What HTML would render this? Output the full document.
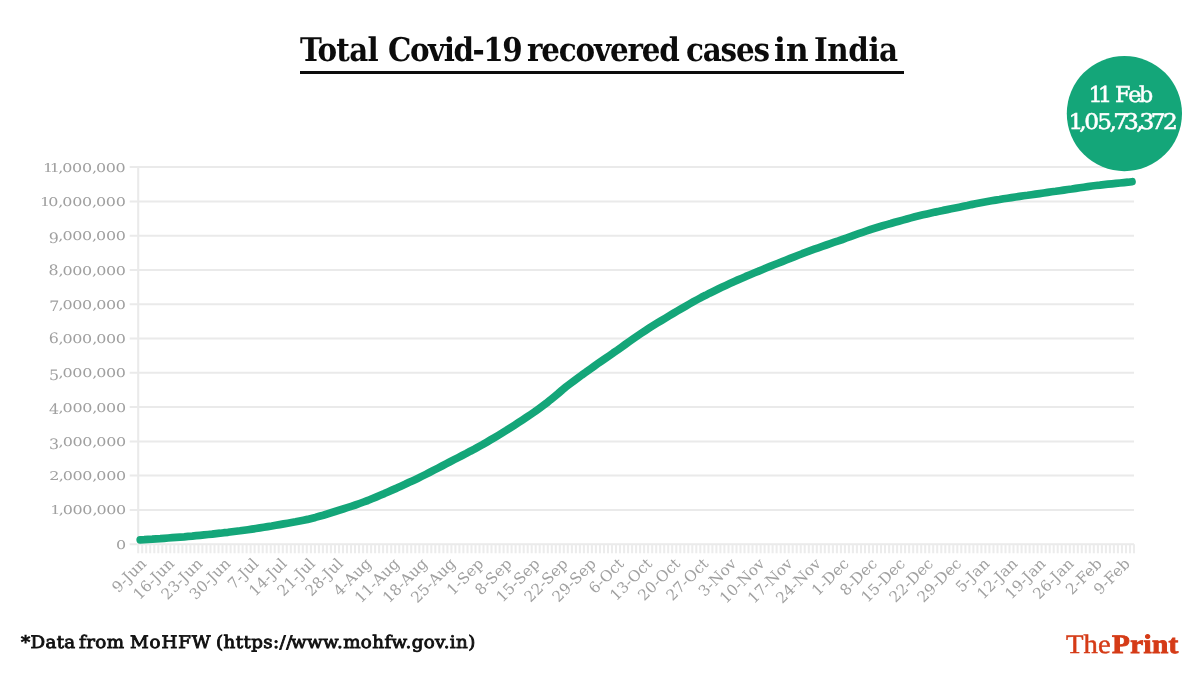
<!DOCTYPE html>
<html lang="en">
<head>
<meta charset="utf-8">
<title>Total Covid-19 recovered cases in India</title>
<style>
html,body{margin:0;padding:0;background:#fff;}
body{width:1200px;height:675px;position:relative;overflow:hidden;font-family:"Liberation Serif","DejaVu Serif",serif;}
#title{position:absolute;left:300px;top:29px;width:604px;height:41.8px;border-bottom:3.2px solid #0c0c0c;box-sizing:content-box;
  font-family:"DejaVu Serif Condensed","DejaVu Serif","Liberation Serif",serif;font-weight:bold;font-size:32.7px;line-height:42px;color:#0c0c0c;white-space:nowrap;}
#title span{position:absolute;top:0px;transform:skewX(0.05deg);}
#foot{position:absolute;left:0;top:622.25px;width:600px;height:40px;font-family:"DejaVu Serif","Liberation Serif",serif;font-size:17.4px;line-height:40px;color:#111;white-space:nowrap;-webkit-text-stroke:0.85px #111;}
#foot span{position:absolute;top:0;transform:scaleX(1.052) skewX(0.05deg);transform-origin:0 50%;}
#logo{position:absolute;left:0;top:622.25px;width:1200px;height:44px;font-family:"Liberation Serif","DejaVu Serif",serif;font-size:26.6px;line-height:44px;color:#d53b17;white-space:nowrap;}
#logo span,#logo b{position:absolute;top:0;transform-origin:0 50%;}
#logo span{-webkit-text-stroke:0.45px #d53b17;transform:scaleX(1.08) skewX(0.05deg);}
#logo b{font-weight:bold;-webkit-text-stroke:0.9px #d53b17;transform:scaleX(1.10) skewX(0.05deg);}
</style>
</head>
<body>
<svg width="1200" height="675" viewBox="0 0 1200 675" style="position:absolute;left:0;top:0">
<line x1="129.7" y1="544.2" x2="1134.0" y2="544.2" stroke="#eaeaea" stroke-width="2"/>
<line x1="129.7" y1="509.9" x2="1134.0" y2="509.9" stroke="#eaeaea" stroke-width="2"/>
<line x1="129.7" y1="475.6" x2="1134.0" y2="475.6" stroke="#eaeaea" stroke-width="2"/>
<line x1="129.7" y1="441.4" x2="1134.0" y2="441.4" stroke="#eaeaea" stroke-width="2"/>
<line x1="129.7" y1="407.1" x2="1134.0" y2="407.1" stroke="#eaeaea" stroke-width="2"/>
<line x1="129.7" y1="372.8" x2="1134.0" y2="372.8" stroke="#eaeaea" stroke-width="2"/>
<line x1="129.7" y1="338.5" x2="1134.0" y2="338.5" stroke="#eaeaea" stroke-width="2"/>
<line x1="129.7" y1="304.2" x2="1134.0" y2="304.2" stroke="#eaeaea" stroke-width="2"/>
<line x1="129.7" y1="270.0" x2="1134.0" y2="270.0" stroke="#eaeaea" stroke-width="2"/>
<line x1="129.7" y1="235.7" x2="1134.0" y2="235.7" stroke="#eaeaea" stroke-width="2"/>
<line x1="129.7" y1="201.4" x2="1134.0" y2="201.4" stroke="#eaeaea" stroke-width="2"/>
<line x1="129.7" y1="167.1" x2="1134.0" y2="167.1" stroke="#eaeaea" stroke-width="2"/>
<line x1="138.2" y1="167.1" x2="138.2" y2="544.2" stroke="#eaeaea" stroke-width="2.1"/>
<path d="M138.2,544.2v9M142.2,544.2v9M146.2,544.2v9M150.2,544.2v9M154.3,544.2v9M158.3,544.2v9M162.3,544.2v9M166.3,544.2v9M170.3,544.2v9M174.3,544.2v9M178.4,544.2v9M182.4,544.2v9M186.4,544.2v9M190.4,544.2v9M194.4,544.2v9M198.4,544.2v9M202.4,544.2v9M206.5,544.2v9M210.5,544.2v9M214.5,544.2v9M218.5,544.2v9M222.5,544.2v9M226.5,544.2v9M230.6,544.2v9M234.6,544.2v9M238.6,544.2v9M242.6,544.2v9M246.6,544.2v9M250.6,544.2v9M254.6,544.2v9M258.7,544.2v9M262.7,544.2v9M266.7,544.2v9M270.7,544.2v9M274.7,544.2v9M278.7,544.2v9M282.8,544.2v9M286.8,544.2v9M290.8,544.2v9M294.8,544.2v9M298.8,544.2v9M302.8,544.2v9M306.8,544.2v9M310.9,544.2v9M314.9,544.2v9M318.9,544.2v9M322.9,544.2v9M326.9,544.2v9M330.9,544.2v9M335.0,544.2v9M339.0,544.2v9M343.0,544.2v9M347.0,544.2v9M351.0,544.2v9M355.0,544.2v9M359.0,544.2v9M363.1,544.2v9M367.1,544.2v9M371.1,544.2v9M375.1,544.2v9M379.1,544.2v9M383.1,544.2v9M387.1,544.2v9M391.2,544.2v9M395.2,544.2v9M399.2,544.2v9M403.2,544.2v9M407.2,544.2v9M411.2,544.2v9M415.3,544.2v9M419.3,544.2v9M423.3,544.2v9M427.3,544.2v9M431.3,544.2v9M435.3,544.2v9M439.3,544.2v9M443.4,544.2v9M447.4,544.2v9M451.4,544.2v9M455.4,544.2v9M459.4,544.2v9M463.4,544.2v9M467.5,544.2v9M471.5,544.2v9M475.5,544.2v9M479.5,544.2v9M483.5,544.2v9M487.5,544.2v9M491.5,544.2v9M495.6,544.2v9M499.6,544.2v9M503.6,544.2v9M507.6,544.2v9M511.6,544.2v9M515.6,544.2v9M519.7,544.2v9M523.7,544.2v9M527.7,544.2v9M531.7,544.2v9M535.7,544.2v9M539.7,544.2v9M543.7,544.2v9M547.8,544.2v9M551.8,544.2v9M555.8,544.2v9M559.8,544.2v9M563.8,544.2v9M567.8,544.2v9M571.9,544.2v9M575.9,544.2v9M579.9,544.2v9M583.9,544.2v9M587.9,544.2v9M591.9,544.2v9M595.9,544.2v9M600.0,544.2v9M604.0,544.2v9M608.0,544.2v9M612.0,544.2v9M616.0,544.2v9M620.0,544.2v9M624.1,544.2v9M628.1,544.2v9M632.1,544.2v9M636.1,544.2v9M640.1,544.2v9M644.1,544.2v9M648.1,544.2v9M652.2,544.2v9M656.2,544.2v9M660.2,544.2v9M664.2,544.2v9M668.2,544.2v9M672.2,544.2v9M676.3,544.2v9M680.3,544.2v9M684.3,544.2v9M688.3,544.2v9M692.3,544.2v9M696.3,544.2v9M700.3,544.2v9M704.4,544.2v9M708.4,544.2v9M712.4,544.2v9M716.4,544.2v9M720.4,544.2v9M724.4,544.2v9M728.5,544.2v9M732.5,544.2v9M736.5,544.2v9M740.5,544.2v9M744.5,544.2v9M748.5,544.2v9M752.5,544.2v9M756.6,544.2v9M760.6,544.2v9M764.6,544.2v9M768.6,544.2v9M772.6,544.2v9M776.6,544.2v9M780.7,544.2v9M784.7,544.2v9M788.7,544.2v9M792.7,544.2v9M796.7,544.2v9M800.7,544.2v9M804.7,544.2v9M808.8,544.2v9M812.8,544.2v9M816.8,544.2v9M820.8,544.2v9M824.8,544.2v9M828.8,544.2v9M832.9,544.2v9M836.9,544.2v9M840.9,544.2v9M844.9,544.2v9M848.9,544.2v9M852.9,544.2v9M856.9,544.2v9M861.0,544.2v9M865.0,544.2v9M869.0,544.2v9M873.0,544.2v9M877.0,544.2v9M881.0,544.2v9M885.0,544.2v9M889.1,544.2v9M893.1,544.2v9M897.1,544.2v9M901.1,544.2v9M905.1,544.2v9M909.1,544.2v9M913.2,544.2v9M917.2,544.2v9M921.2,544.2v9M925.2,544.2v9M929.2,544.2v9M933.2,544.2v9M937.2,544.2v9M941.3,544.2v9M945.3,544.2v9M949.3,544.2v9M953.3,544.2v9M957.3,544.2v9M961.3,544.2v9M965.4,544.2v9M969.4,544.2v9M973.4,544.2v9M977.4,544.2v9M981.4,544.2v9M985.4,544.2v9M989.4,544.2v9M993.5,544.2v9M997.5,544.2v9M1001.5,544.2v9M1005.5,544.2v9M1009.5,544.2v9M1013.5,544.2v9M1017.6,544.2v9M1021.6,544.2v9M1025.6,544.2v9M1029.6,544.2v9M1033.6,544.2v9M1037.6,544.2v9M1041.6,544.2v9M1045.7,544.2v9M1049.7,544.2v9M1053.7,544.2v9M1057.7,544.2v9M1061.7,544.2v9M1065.7,544.2v9M1069.8,544.2v9M1073.8,544.2v9M1077.8,544.2v9M1081.8,544.2v9M1085.8,544.2v9M1089.8,544.2v9M1093.8,544.2v9M1097.9,544.2v9M1101.9,544.2v9M1105.9,544.2v9M1109.9,544.2v9M1113.9,544.2v9M1117.9,544.2v9M1122.0,544.2v9M1126.0,544.2v9M1130.0,544.2v9M1134.0,544.2v9" stroke="#ececec" stroke-width="2" fill="none"/>
<g font-family="'DejaVu Serif', 'Liberation Serif', serif" fill="#a0a0a0"><text transform="scale(1.33,1) skewX(0.05)" font-size="12.0" x="86.79" y="548.8">0</text></g>
<g font-family="'DejaVu Serif', 'Liberation Serif', serif" fill="#a0a0a0"><text transform="scale(1.33,1) skewX(0.05)" font-size="12.0" x="37.32 43.68 46.71 54.08 61.45 69.02 72.05 79.42 86.79" y="514.5">1,000,000</text></g>
<g font-family="'DejaVu Serif', 'Liberation Serif', serif" fill="#a0a0a0"><text transform="scale(1.33,1) skewX(0.05)" font-size="12.0" x="36.63 43.68 46.71 54.08 61.45 69.02 72.05 79.42 86.79" y="480.2">2,000,000</text></g>
<g font-family="'DejaVu Serif', 'Liberation Serif', serif" fill="#a0a0a0"><text transform="scale(1.1,1) skewX(0.05)" font-size="14.4" x="44.13" y="448.7">3</text><text transform="scale(1.33,1) skewX(0.05)" font-size="12.0" x="43.68 46.71 54.08 61.45 69.02 72.05 79.42 86.79" y="446.0">,000,000</text></g>
<g font-family="'DejaVu Serif', 'Liberation Serif', serif" fill="#a0a0a0"><text transform="scale(1.1,1) skewX(0.05)" font-size="14.4" x="44.19" y="414.4">4</text><text transform="scale(1.33,1) skewX(0.05)" font-size="12.0" x="43.68 46.71 54.08 61.45 69.02 72.05 79.42 86.79" y="411.7">,000,000</text></g>
<g font-family="'DejaVu Serif', 'Liberation Serif', serif" fill="#a0a0a0"><text transform="scale(1.1,1) skewX(0.05)" font-size="14.4" x="44.23" y="380.1">5</text><text transform="scale(1.33,1) skewX(0.05)" font-size="12.0" x="43.68 46.71 54.08 61.45 69.02 72.05 79.42 86.79" y="377.4">,000,000</text></g>
<g font-family="'DejaVu Serif', 'Liberation Serif', serif" fill="#a0a0a0"><text transform="scale(1.1,1) skewX(0.05)" font-size="14.4" x="43.98" y="343.1">6</text><text transform="scale(1.33,1) skewX(0.05)" font-size="12.0" x="43.68 46.71 54.08 61.45 69.02 72.05 79.42 86.79" y="343.1">,000,000</text></g>
<g font-family="'DejaVu Serif', 'Liberation Serif', serif" fill="#a0a0a0"><text transform="scale(1.1,1) skewX(0.05)" font-size="14.4" x="44.43" y="311.5">7</text><text transform="scale(1.33,1) skewX(0.05)" font-size="12.0" x="43.68 46.71 54.08 61.45 69.02 72.05 79.42 86.79" y="308.8">,000,000</text></g>
<g font-family="'DejaVu Serif', 'Liberation Serif', serif" fill="#a0a0a0"><text transform="scale(1.1,1) skewX(0.05)" font-size="14.4" x="43.83" y="274.6">8</text><text transform="scale(1.33,1) skewX(0.05)" font-size="12.0" x="43.68 46.71 54.08 61.45 69.02 72.05 79.42 86.79" y="274.6">,000,000</text></g>
<g font-family="'DejaVu Serif', 'Liberation Serif', serif" fill="#a0a0a0"><text transform="scale(1.1,1) skewX(0.05)" font-size="14.4" x="44.04" y="243.0">9</text><text transform="scale(1.33,1) skewX(0.05)" font-size="12.0" x="43.68 46.71 54.08 61.45 69.02 72.05 79.42 86.79" y="240.3">,000,000</text></g>
<g font-family="'DejaVu Serif', 'Liberation Serif', serif" fill="#a0a0a0"><text transform="scale(1.33,1) skewX(0.05)" font-size="12.0" x="29.95 36.11 43.68 46.71 54.08 61.45 69.02 72.05 79.42 86.79" y="206.0">10,000,000</text></g>
<g font-family="'DejaVu Serif', 'Liberation Serif', serif" fill="#a0a0a0"><text transform="scale(1.33,1) skewX(0.05)" font-size="12.0" x="32.13 37.32 43.68 46.71 54.08 61.45 69.02 72.05 79.42 86.79" y="171.7">11,000,000</text></g>
<g font-family="'DejaVu Serif', 'Liberation Serif', serif" font-size="15.2" letter-spacing="0.1" fill="#a0a0a0" text-anchor="end">
<text transform="translate(147.2,564.6) rotate(-45)">9-Jun</text>
<text transform="translate(175.3,564.6) rotate(-45)">16-Jun</text>
<text transform="translate(203.4,564.6) rotate(-45)">23-Jun</text>
<text transform="translate(231.5,564.6) rotate(-45)">30-Jun</text>
<text transform="translate(259.6,564.6) rotate(-45)">7-Jul</text>
<text transform="translate(287.7,564.6) rotate(-45)">14-Jul</text>
<text transform="translate(315.9,564.6) rotate(-45)">21-Jul</text>
<text transform="translate(344.0,564.6) rotate(-45)">28-Jul</text>
<text transform="translate(372.1,564.6) rotate(-45)">4-Aug</text>
<text transform="translate(400.2,564.6) rotate(-45)">11-Aug</text>
<text transform="translate(428.3,564.6) rotate(-45)">18-Aug</text>
<text transform="translate(456.4,564.6) rotate(-45)">25-Aug</text>
<text transform="translate(484.5,564.6) rotate(-45)">1-Sep</text>
<text transform="translate(512.6,564.6) rotate(-45)">8-Sep</text>
<text transform="translate(540.7,564.6) rotate(-45)">15-Sep</text>
<text transform="translate(568.8,564.6) rotate(-45)">22-Sep</text>
<text transform="translate(596.9,564.6) rotate(-45)">29-Sep</text>
<text transform="translate(625.0,564.6) rotate(-45)">6-Oct</text>
<text transform="translate(653.1,564.6) rotate(-45)">13-Oct</text>
<text transform="translate(681.2,564.6) rotate(-45)">20-Oct</text>
<text transform="translate(709.4,564.6) rotate(-45)">27-Oct</text>
<text transform="translate(737.5,564.6) rotate(-45)">3-Nov</text>
<text transform="translate(765.6,564.6) rotate(-45)">10-Nov</text>
<text transform="translate(793.7,564.6) rotate(-45)">17-Nov</text>
<text transform="translate(821.8,564.6) rotate(-45)">24-Nov</text>
<text transform="translate(849.9,564.6) rotate(-45)">1-Dec</text>
<text transform="translate(878.0,564.6) rotate(-45)">8-Dec</text>
<text transform="translate(906.1,564.6) rotate(-45)">15-Dec</text>
<text transform="translate(934.2,564.6) rotate(-45)">22-Dec</text>
<text transform="translate(962.3,564.6) rotate(-45)">29-Dec</text>
<text transform="translate(990.4,564.6) rotate(-45)">5-Jan</text>
<text transform="translate(1018.5,564.6) rotate(-45)">12-Jan</text>
<text transform="translate(1046.6,564.6) rotate(-45)">19-Jan</text>
<text transform="translate(1074.7,564.6) rotate(-45)">26-Jan</text>
<text transform="translate(1102.9,564.6) rotate(-45)">2-Feb</text>
<text transform="translate(1131.0,564.6) rotate(-45)">9-Feb</text>
</g>
<path d="M140.2,539.8 L144.2,539.6 L148.2,539.3 L152.2,539.1 L156.2,538.8 L160.2,538.6 L164.2,538.3 L168.2,538.0 L172.2,537.7 L176.2,537.4 L180.2,537.1 L184.2,536.8 L188.2,536.4 L192.2,536.1 L196.1,535.7 L200.1,535.3 L204.1,534.9 L208.1,534.5 L212.1,534.1 L216.1,533.6 L220.1,533.2 L224.1,532.7 L228.0,532.3 L232.0,531.8 L236.0,531.3 L240.0,530.8 L244.0,530.2 L247.9,529.7 L251.9,529.1 L255.9,528.5 L259.9,527.9 L263.8,527.3 L267.8,526.6 L271.8,526.0 L275.8,525.3 L279.7,524.6 L283.7,523.9 L287.7,523.2 L291.6,522.5 L295.6,521.8 L299.6,521.0 L303.5,520.2 L307.5,519.4 L311.4,518.4 L315.4,517.4 L319.3,516.3 L323.3,515.2 L327.2,514.0 L331.1,512.8 L335.1,511.5 L339.0,510.3 L343.1,509.0 L347.2,507.7 L351.3,506.4 L355.4,505.0 L359.5,503.5 L363.6,502.0 L367.8,500.5 L371.9,498.8 L376.0,497.1 L380.2,495.3 L384.3,493.6 L388.5,491.7 L392.6,489.9 L396.8,488.1 L400.9,486.2 L405.1,484.3 L409.2,482.3 L413.4,480.4 L417.6,478.4 L421.7,476.4 L425.8,474.4 L429.9,472.3 L433.9,470.2 L438.0,468.1 L442.0,466.0 L446.0,463.9 L450.1,461.8 L454.1,459.7 L458.2,457.6 L462.2,455.5 L466.3,453.4 L470.3,451.2 L474.4,449.1 L478.4,446.8 L482.5,444.6 L486.5,442.3 L490.5,439.9 L494.5,437.6 L498.5,435.2 L502.5,432.7 L506.5,430.3 L510.5,427.7 L514.5,425.2 L518.5,422.6 L522.5,420.0 L526.5,417.3 L530.5,414.6 L534.5,411.9 L538.4,409.1 L542.4,406.2 L546.4,403.2 L550.3,399.9 L554.3,396.7 L558.2,393.5 L562.2,390.0 L566.1,386.8 L570.1,383.7 L574.0,380.8 L578.0,377.9 L581.9,375.0 L585.9,372.2 L589.8,369.3 L593.8,366.5 L597.7,363.7 L601.6,361.0 L605.6,358.3 L609.5,355.6 L613.4,352.8 L617.4,350.1 L621.3,347.3 L625.2,344.5 L629.2,341.7 L633.1,338.9 L637.1,336.1 L641.1,333.4 L645.2,330.7 L649.2,328.1 L653.2,325.6 L657.2,323.1 L661.3,320.6 L665.3,318.2 L669.3,315.8 L673.3,313.4 L677.3,311.0 L681.4,308.6 L685.4,306.3 L689.4,304.0 L693.5,301.7 L697.5,299.5 L701.5,297.3 L705.6,295.3 L709.6,293.2 L713.7,291.2 L717.7,289.2 L721.7,287.3 L725.8,285.4 L729.8,283.6 L733.8,281.7 L737.9,279.9 L741.9,278.2 L745.9,276.4 L750.0,274.7 L754.0,273.0 L758.1,271.4 L762.1,269.7 L766.1,268.0 L770.1,266.4 L774.1,264.8 L778.1,263.2 L782.2,261.6 L786.2,260.0 L790.2,258.4 L794.2,256.9 L798.2,255.3 L802.2,253.7 L806.3,252.2 L810.3,250.7 L814.3,249.2 L818.3,247.8 L822.3,246.4 L826.3,245.0 L830.3,243.6 L834.4,242.2 L838.4,240.9 L842.4,239.5 L846.4,238.0 L850.4,236.6 L854.4,235.1 L858.5,233.7 L862.5,232.3 L866.6,230.9 L870.6,229.5 L874.6,228.3 L878.7,227.0 L882.7,225.8 L886.7,224.6 L890.8,223.5 L894.8,222.3 L898.8,221.2 L902.8,220.1 L906.9,219.0 L910.9,217.9 L914.9,216.8 L919.0,215.8 L923.0,214.8 L927.0,213.9 L931.1,213.0 L935.1,212.1 L939.1,211.3 L943.1,210.4 L947.2,209.6 L951.2,208.8 L955.2,208.0 L959.2,207.2 L963.3,206.3 L967.3,205.5 L971.3,204.6 L975.4,203.8 L979.4,203.0 L983.4,202.2 L987.4,201.5 L991.5,200.8 L995.5,200.1 L999.5,199.5 L1003.5,198.8 L1007.5,198.2 L1011.5,197.6 L1015.5,197.0 L1019.6,196.4 L1023.6,195.8 L1027.6,195.3 L1031.6,194.7 L1035.6,194.1 L1039.6,193.6 L1043.7,193.0 L1047.7,192.4 L1051.7,191.8 L1055.7,191.3 L1059.7,190.7 L1063.7,190.1 L1067.7,189.5 L1071.8,189.0 L1075.8,188.4 L1079.8,187.8 L1083.8,187.2 L1087.8,186.6 L1091.8,186.0 L1095.9,185.5 L1099.9,185.1 L1103.9,184.6 L1107.9,184.2 L1111.9,183.8 L1115.9,183.4 L1119.9,183.0 L1124.0,182.6 L1128.0,182.2 L1132.0,181.7" fill="none" stroke="#14a679" stroke-width="7.7" stroke-linecap="round" stroke-linejoin="round"/>
<circle cx="1124.4" cy="113.6" r="57.6" fill="#14a679"/>
<g font-family="'DejaVu Serif', 'Liberation Serif', serif" fill="#fff" stroke="#fff" stroke-width="0.5">
<text transform="scale(1.018,1) skewX(0.05)" x="1069.22 1078.45 1089.56 1095.24 1108.18 1118.69" y="102" font-size="21.8">11 Feb</text>
<text transform="scale(1.078,1) skewX(0.05)" x="991.03 1001.17 1005.75 1017.72 1029.14 1032.66 1042.51 1053.90 1056.89 1067.31 1078.71" y="129" font-size="21.6">1,05,73,372</text>
</g>
</svg>
<div id="title"><span style="left:-0.20px;letter-spacing:-0.695px;">Total</span> <span style="left:87.85px;letter-spacing:-1.462px;">Covid-19</span> <span style="left:226.80px;letter-spacing:-1.182px;">recovered</span> <span style="left:386.40px;letter-spacing:-1.208px;">cases</span> <span style="left:474.20px;letter-spacing:0.2px;display:inline-block;transform:scaleX(1.06) skewX(0.05deg);transform-origin:0 50%;">in</span> <span style="left:513.60px;letter-spacing:-0.444px;">India</span></div>
<div id="foot"><span style="left:21.0px;letter-spacing:0.3px">*Data </span><span style="left:79.2px;letter-spacing:0.37px">from </span><span style="left:130.0px;letter-spacing:0.8px">MoHFW </span><span style="left:216.0px;letter-spacing:0.37px">(https://</span><span style="left:290.8px;letter-spacing:0.36px">www.mohfw.gov.in)</span></div>
<div id="logo"><span style="left:1066.4px;letter-spacing:0px">The</span><b style="left:1112.4px;letter-spacing:0.3px">Print</b></div>
</body>
</html>
